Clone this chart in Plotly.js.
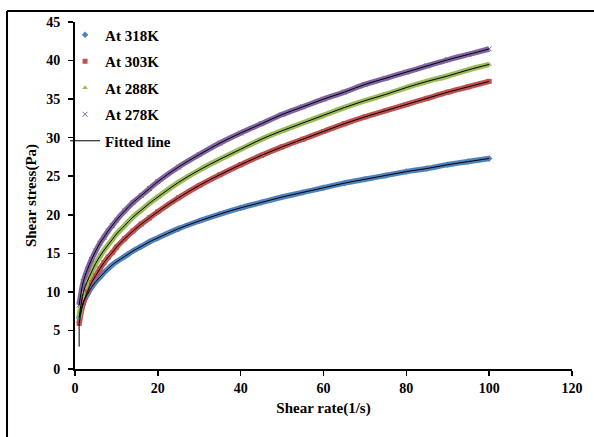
<!DOCTYPE html>
<html>
<head>
<meta charset="utf-8">
<script src="https://cdn.plot.ly/plotly-3.0.1.min.js"></script>
<style>html,body{margin:0;padding:0;background:#fff;}#chart{width:594px;height:437px;}</style>
</head>
<body>
<div id="chart"></div>
<script>
// Shear rate (1/s)
const shearRate = [1,2,3,4,5,6,7,8,9,10,12,14,16,18,20,25,30,35,40,45,50,55,60,65,70,75,80,85,90,95,100];
// Shear stress (Pa)
const at318K = [6.6,8.6,9.7,10.6,11.3,11.9,12.5,13.0,13.5,13.9,14.6,15.3,15.9,16.5,17.0,18.2,19.2,20.1,20.9,21.6,22.3,22.9,23.5,24.1,24.6,25.1,25.6,26.0,26.5,26.9,27.3];
const at303K = [5.9,8.6,10.0,11.2,12.1,13.0,13.8,14.5,15.1,15.8,16.9,17.9,18.8,19.6,20.4,22.2,23.8,25.2,26.5,27.7,28.8,29.8,30.8,31.8,32.7,33.5,34.3,35.1,35.9,36.6,37.3];
const at288K = [6.7,9.9,11.4,12.6,13.7,14.6,15.4,16.1,16.8,17.5,18.6,19.7,20.6,21.5,22.3,24.2,25.8,27.2,28.5,29.8,30.9,31.9,32.9,33.9,34.8,35.6,36.5,37.3,38.0,38.8,39.5];
const at278K = [8.3,11.3,12.9,14.2,15.3,16.3,17.1,17.9,18.6,19.3,20.5,21.6,22.5,23.4,24.3,26.2,27.8,29.3,30.6,31.8,33.0,34.0,35.0,35.9,36.9,37.7,38.5,39.3,40.1,40.8,41.5];
// short low-rate tail of the fitted line near rate 1
const fitTailX = [1, 1];
const fitTailY = [2.9, 5.9];

const seriesNames = ['At 318K','At 303K','At 288K','At 278K'];
const seriesData = [at318K, at303K, at288K, at278K];
const colors = ['#4F81BD','#C0504D','#9BBB59','#8064A2'];
const symbols = ['diamond','square','triangle-up','x-thin-open'];

const traces = [];
seriesData.forEach((ys, i) => {
  traces.push({x: shearRate, y: ys, type:'scatter', mode:'lines', line:{color:colors[i], width:5.5, shape:'spline'},
    showlegend:false, legendgroup:'g'+i, hoverinfo:'skip'});
});
seriesData.forEach((ys, i) => {
  traces.push({x: shearRate, y: ys, type:'scatter', mode:'markers', name: seriesNames[i],
    legendgroup:'g'+i,
    marker:{color:colors[i], symbol:symbols[i], size:5, line:{color:colors[i], width:(i===3?1:0)}}});
});
seriesData.forEach((ys, i) => {
  traces.push({x: shearRate, y: ys, type:'scatter', mode:'lines', line:{color:'#000', width:1, shape:'spline'},
    name:'Fitted line', showlegend: i===0, legendgroup:'fit'});
});
traces.push({x: fitTailX, y: fitTailY, type:'scatter', mode:'lines', line:{color:'#000', width:1}, showlegend:false, legendgroup:'fit'});

const fam = '"Liberation Serif","Times New Roman",serif';
const font = {family:fam, size:14, color:'#000', weight:'bold'};

const layout = {
  width:594, height:437,
  margin:{l:75, r:22, t:22, b:68},
  paper_bgcolor:'#fff', plot_bgcolor:'#fff',
  font: font,
  showlegend:true,
  legend:{x:-0.02, y:1.01, xanchor:'left', yanchor:'top', bgcolor:'rgba(0,0,0,0)',
    font:{family:fam, size:15, color:'#000', weight:'bold'},
    traceorder:'grouped', tracegroupgap:4},
  xaxis:{range:[0,120], dtick:20, tick0:0, showgrid:false, zeroline:false, showline:true,
    linecolor:'#000', linewidth:2, ticks:'outside', ticklen:5, tickwidth:1.5, tickcolor:'#000',
    tickfont:{family:fam, size:14, color:'#000', weight:'bold'},
    title:{text:'Shear rate(1/s)', font:{family:fam, size:15, color:'#000', weight:'bold'}, standoff:8}},
  yaxis:{range:[0,45], dtick:5, tick0:0, showgrid:false, zeroline:false, showline:true,
    linecolor:'#000', linewidth:2, ticks:'outside', ticklen:5, tickwidth:1.5, tickcolor:'#000',
    ticklabelstandoff:5,
    tickfont:{family:fam, size:14, color:'#000', weight:'bold'},
    title:{text:'Shear stress(Pa)', font:{family:fam, size:15, color:'#000', weight:'bold'}, standoff:6}},
  shapes:[
    {type:'line', xref:'paper', yref:'paper', x0:-0.1368, x1:-0.1368, y0:-0.25, y1:1.0317, line:{color:'#000', width:2}, layer:'above'},
    {type:'line', xref:'paper', yref:'paper', x0:-0.1368, x1:1.2, y0:1.0317, y1:1.0317, line:{color:'#000', width:2}, layer:'above'}
  ]
};

Plotly.newPlot('chart', traces, layout, {displayModeBar:false, staticPlot:true});
</script>
</body>
</html>
